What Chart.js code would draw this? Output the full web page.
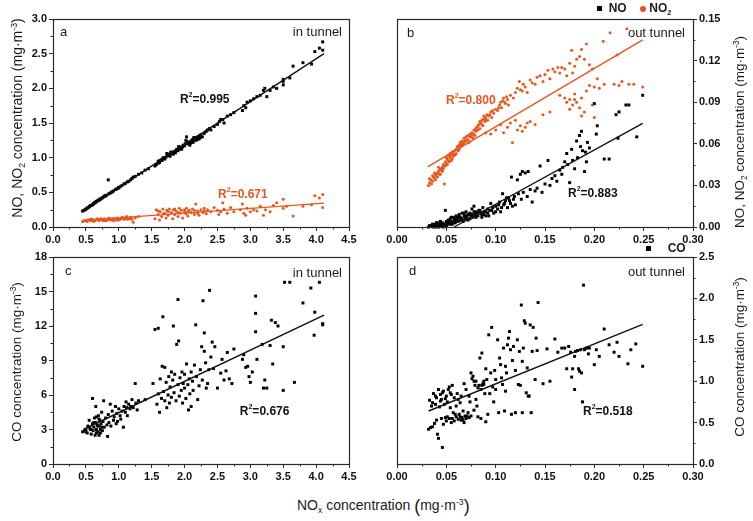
<!DOCTYPE html>
<html><head><meta charset="utf-8">
<script src="https://cdn.jsdelivr.net/npm/chart.js@4.4.1/dist/chart.umd.min.js"></script>
<style>
html,body{margin:0;padding:0;background:#fff;width:753px;height:521px;overflow:hidden;font-family:Arial,"Liberation Sans",Helvetica,sans-serif;}
canvas{position:absolute;}
.t{position:absolute;white-space:nowrap;color:#1a1a1a;line-height:1;}
.rot{transform:translate(-50%,-50%) rotate(-90deg);}
sup{font-size:0.62em;vertical-align:0.6em;line-height:0}
sub{font-size:0.62em;vertical-align:-0.35em;line-height:0}
.sq{display:inline-block;width:5px;height:5px;background:#000;vertical-align:middle;}
.dot{display:inline-block;width:6px;height:6px;border-radius:50%;background:#e9561f;vertical-align:middle;}
</style></head><body>
<canvas id="ca" width="372" height="250" style="left:0;top:0"></canvas>
<canvas id="cb" width="378" height="250" style="left:375px;top:0"></canvas>
<canvas id="cc" width="372" height="250" style="left:0;top:238px"></canvas>
<canvas id="cd" width="378" height="250" style="left:375px;top:238px"></canvas>

<div class="t rot" style="left:17px;top:118px;font-size:14px">NO, NO<sub>2</sub> concentration (mg·m<sup>-3</sup>)</div>
<div class="t rot" style="left:17px;top:362px;font-size:13.5px">CO concentration (mg·m<sup>-3</sup>)</div>
<div class="t rot" style="left:740px;top:132px;font-size:13.5px">NO, NO<sub>2</sub> concentration (mg·m<sup>-3</sup>)</div>
<div class="t rot" style="left:740px;top:357px;font-size:13.5px">CO concentration (mg·m<sup>-3</sup>)</div>
<div class="t" style="left:297px;top:497px;font-size:14px">NO<sub>x</sub> concentration <span style="font-size:18px;vertical-align:-2px">(</span>mg·m<sup>-3</sup><span style="font-size:18px;vertical-align:-2px">)</span></div>
<div class="t" style="left:597px;top:2px;font-size:12px;font-weight:bold"><span class="sq"></span>&nbsp;&nbsp;NO&nbsp;&nbsp;&nbsp;&nbsp;<span class="dot"></span>&nbsp;NO<sub>2</sub></div>
<div class="t" style="left:646px;top:242px;font-size:12px;font-weight:bold"><span class="sq"></span>&nbsp;&nbsp;&nbsp;&nbsp;&nbsp;CO</div>

<script>
// ---------- data ----------
const aNO = [[0.45,0.23],[0.47,0.24],[0.49,0.25],[0.5,0.26],[0.52,0.27],[0.53,0.28],[0.55,0.29],[0.56,0.30],[0.58,0.31],[0.6,0.32],[0.61,0.33],[0.62,0.34],[0.64,0.35],[0.65,0.36],[0.66,0.37],[0.68,0.38],[0.69,0.38],[0.7,0.39],[0.72,0.40],[0.73,0.41],[0.75,0.42],[0.76,0.43],[0.78,0.44],[0.8,0.45],[0.82,0.46],[0.84,0.68],[0.85,0.48],[0.87,0.49],[0.9,0.51],[0.92,0.52],[0.95,0.54],[0.97,0.55],[1.0,0.57],[1.02,0.58],[1.05,0.60],[1.08,0.62],[1.1,0.63],[1.13,0.65],[1.15,0.66],[1.18,0.68],[1.2,0.70],[1.22,0.72],[1.25,0.73],[1.3,0.76],[1.35,0.78],[1.4,0.82],[1.45,0.84],
[1.55,0.88],[1.57,0.90],[1.6,0.92],[1.62,0.93],[1.63,0.96],[1.65,0.97],[1.67,0.99],[1.68,1.0],[1.7,0.98],[1.72,1.01],[1.74,1.03],[1.75,1.04],[1.77,1.05],[1.78,1.02],[1.8,1.06],[1.82,1.08],[1.83,1.05],[1.85,1.09],[1.87,1.10],[1.88,1.12],[1.9,1.1],[1.92,1.13],[1.93,1.15],[1.95,1.12],[1.97,1.16],[1.98,1.18],[2.0,1.17],[2.01,1.20],[2.02,1.25],[2.03,1.30],[2.05,1.2],[2.07,1.22],[2.08,1.18],[2.1,1.24],[2.12,1.26],[2.13,1.22],[2.15,1.27],[2.17,1.25],[2.18,1.29],[2.2,1.30],[2.22,1.27],[2.23,1.32],[2.25,1.33],[2.27,1.30],[2.3,1.35],[2.33,1.38],[2.35,1.40],[2.38,1.42],[2.4,1.40],[2.45,1.45],[2.5,1.48],[2.53,1.52],[2.55,1.55],[2.58,1.55],[2.6,1.50],[2.65,1.60],[2.7,1.62],[2.75,1.65],[2.88,1.68],[2.9,1.75],[2.93,1.72],[2.95,1.80],[3.0,1.82],[3.05,1.85],[3.1,1.88],[3.15,1.90],[3.2,1.97],[3.22,2.0],[3.25,1.88],[3.3,1.97],[3.35,2.02],[3.4,2.0],[3.5,2.05],[3.5,2.10],[3.5,2.13],[3.6,2.15],[3.65,2.32],[3.8,2.37],[3.93,2.35],[3.98,2.53],[4.05,2.58],[4.1,2.55],[4.1,2.67],
[1.6,0.95],[1.66,0.96],[1.73,1.06],[1.79,1.08],[1.86,1.07],[1.91,1.16],[1.96,1.14],[2.04,1.23],[2.09,1.21],[2.14,1.29],[2.19,1.26],[2.24,1.29],[0.57,0.31],[0.63,0.35],[0.71,0.40],[0.79,0.45],[0.89,0.50],[0.99,0.56]];
const aNO2 = [[0.45,0.08],[0.5,0.09],[0.52,0.08],[0.55,0.10],[0.58,0.09],[0.6,0.11],[0.62,0.08],[0.65,0.10],[0.67,0.12],[0.7,0.09],[0.72,0.11],[0.75,0.10],[0.78,0.12],[0.8,0.09],[0.82,0.11],[0.85,0.13],[0.88,0.10],[0.9,0.12],[0.92,0.09],[0.95,0.11],[0.98,0.13],[1.0,0.10],[1.03,0.12],[1.05,0.14],[1.08,0.11],[1.1,0.13],[1.12,0.15],[1.15,0.12],[1.18,0.14],[1.2,0.11],[1.22,0.07],[1.25,0.13],[1.3,0.15],
[0.47,0.09],[0.53,0.10],[0.57,0.11],[0.63,0.09],[0.68,0.11],[0.73,0.12],[0.77,0.09],[0.83,0.10],[0.87,0.11],[0.93,0.12],[0.97,0.10],[1.02,0.11],[1.07,0.13],[1.13,0.11],[1.17,0.12],
[1.55,0.12],[1.57,0.25],[1.6,0.18],[1.62,0.10],[1.63,0.22],[1.65,0.15],[1.67,0.26],[1.7,0.20],[1.72,0.13],[1.73,0.24],[1.75,0.17],[1.77,0.26],[1.8,0.21],[1.82,0.12],[1.83,0.25],[1.85,0.18],[1.87,0.23],[1.9,0.15],[1.92,0.27],[1.93,0.20],[1.95,0.24],[1.97,0.13],[2.0,0.22],[2.02,0.19],[2.03,0.27],[2.05,0.16],[2.07,0.24],[2.1,0.21],[2.12,0.26],[2.15,0.18],[2.17,0.33],[2.2,0.23],[2.22,0.17],[2.25,0.25],[2.28,0.21],[2.3,0.27],[2.33,0.19],[2.35,0.25],[2.4,0.22],[2.45,0.28],[2.5,0.24],[2.52,0.18],[2.55,0.22],[2.58,0.35],[2.6,0.26],[2.65,0.20],[2.7,0.28],[2.75,0.22],[2.85,0.25],[2.88,0.33],[2.9,0.20],[2.93,0.17],[2.95,0.27],[3.0,0.22],[3.05,0.25],[3.1,0.23],[3.15,0.30],[3.2,0.17],[3.23,0.25],[3.3,0.22],[3.35,0.31],[3.4,0.35],[3.5,0.27],[3.5,0.40],[3.55,0.30],[3.65,0.16],[3.8,0.30],[3.93,0.32],[3.98,0.45],[4.05,0.42],[4.1,0.47],[4.1,0.28],
[1.6,0.23],[1.68,0.19],[1.75,0.22],[1.85,0.26],[1.9,0.21],[2.0,0.25],[2.05,0.22],[2.15,0.24],[2.2,0.20],[2.3,0.23]];
const bNO = [[0.032,0.000],[0.035,0.001],[0.037,0.000],[0.038,0.002],[0.04,0.001],[0.041,0.003],[0.042,0.000],[0.043,0.002],[0.044,0.004],[0.045,0.001],[0.046,0.003],[0.047,0.000],[0.048,0.002],[0.049,0.012],[0.05,0.004],[0.051,0.002],[0.052,0.005],[0.053,0.003],[0.054,0.006],[0.055,0.004],[0.056,0.002],[0.057,0.007],[0.058,0.005],[0.059,0.003],[0.06,0.008],[0.061,0.006],[0.062,0.004],[0.063,0.009],[0.064,0.007],[0.065,0.005],[0.066,0.010],[0.067,0.004],[0.068,0.008],[0.069,0.006],[0.07,0.011],[0.071,0.007],[0.072,0.005],[0.073,0.009],[0.074,0.006],[0.075,0.008],[0.076,0.013],[0.077,0.007],[0.078,0.015],[0.079,0.009],[0.08,0.011],[0.082,0.008],[0.083,0.012],[0.085,0.010],[0.086,0.007],[0.087,0.014],[0.088,0.009],[0.09,0.011],[0.092,0.013],[0.093,0.008],[0.095,0.017],[0.096,0.012],[0.098,0.010],[0.1,0.015],[0.102,0.013],[0.104,0.018],[0.105,0.011],[0.107,0.024],[0.108,0.016],[0.11,0.019],[0.112,0.014],[0.113,0.021],[0.115,0.017],[0.116,0.036],[0.118,0.020],[0.12,0.016],[0.122,0.034],[0.123,0.024],[0.125,0.038],[0.126,0.020],[0.127,0.040],[0.128,0.025],[0.13,0.039],[0.132,0.022],[0.133,0.040],[0.135,0.027],[0.137,0.018],[0.14,0.026],[0.142,0.028],[0.145,0.044],[0.147,0.025],[0.15,0.031],[0.153,0.048],[0.155,0.030],[0.157,0.035],[0.16,0.037],[0.162,0.033],[0.165,0.041],[0.167,0.038],[0.168,0.043],[0.17,0.047],[0.172,0.053],[0.173,0.045],[0.175,0.032],[0.177,0.056],[0.178,0.048],[0.18,0.042],[0.182,0.062],[0.183,0.050],[0.185,0.066],[0.186,0.058],[0.187,0.069],[0.188,0.055],[0.19,0.040],[0.191,0.054],[0.192,0.047],[0.193,0.061],[0.195,0.057],[0.2,0.089],[0.203,0.073],[0.202,0.067],[0.21,0.049],[0.215,0.049],[0.222,0.081],[0.225,0.083],[0.224,0.064],[0.232,0.088],[0.235,0.088],[0.243,0.065],[0.249,0.095],
[0.033,0.001],[0.036,0.002],[0.039,0.000],[0.04,0.003],[0.043,0.001],[0.045,0.003],[0.047,0.002],[0.05,0.001],[0.052,0.003],[0.054,0.002],[0.055,0.007],[0.057,0.003],[0.059,0.006],[0.06,0.004],[0.062,0.007],[0.064,0.005],[0.066,0.006],[0.068,0.010],[0.07,0.008],[0.072,0.009],[0.074,0.010],[0.076,0.009],[0.078,0.011],[0.08,0.007],[0.082,0.010],[0.084,0.012],[0.086,0.009],[0.088,0.011],[0.09,0.008],[0.092,0.010],[0.094,0.012],[0.097,0.014],[0.1,0.011],[0.103,0.016],[0.106,0.014],[0.109,0.017],[0.111,0.021],[0.114,0.019],[0.117,0.015],[0.119,0.022]];
const bNO2 = [[0.032,0.030],[0.033,0.032],[0.034,0.034],[0.036,0.033],[0.037,0.036],[0.038,0.035],[0.039,0.038],[0.040,0.037],[0.041,0.039],[0.042,0.040],[0.043,0.038],[0.044,0.042],[0.045,0.041],[0.046,0.043],[0.047,0.045],[0.048,0.031],[0.048,0.044],[0.049,0.047],[0.050,0.046],[0.051,0.049],[0.052,0.048],[0.053,0.051],[0.054,0.050],[0.055,0.052],[0.056,0.049],[0.057,0.053],[0.058,0.055],[0.059,0.052],[0.060,0.056],[0.061,0.058],[0.062,0.055],[0.063,0.059],[0.064,0.061],[0.065,0.058],[0.066,0.062],[0.067,0.060],[0.068,0.064],[0.069,0.062],[0.070,0.065],[0.071,0.063],[0.072,0.066],[0.073,0.061],[0.074,0.067],[0.075,0.065],[0.076,0.068],[0.077,0.064],[0.078,0.070],[0.079,0.066],[0.080,0.069],[0.081,0.072],[0.082,0.070],[0.083,0.074],[0.084,0.071],[0.085,0.075],[0.086,0.077],[0.087,0.073],[0.088,0.078],[0.089,0.076],[0.090,0.079],[0.091,0.081],[0.092,0.077],[0.093,0.080],[0.095,0.083],[0.096,0.079],[0.098,0.082],[0.100,0.085],[0.102,0.084],[0.104,0.088],[0.106,0.086],[0.107,0.091],[0.108,0.093],[0.110,0.089],[0.112,0.092],[0.113,0.088],
[0.033,0.035],[0.035,0.031],[0.036,0.037],[0.038,0.039],[0.039,0.034],[0.041,0.036],[0.042,0.043],[0.043,0.041],[0.044,0.038],[0.046,0.040],[0.047,0.042],[0.049,0.044],[0.050,0.050],[0.051,0.045],[0.052,0.052],[0.053,0.047],[0.054,0.053],[0.055,0.048],[0.056,0.054],[0.057,0.051],[0.058,0.052],[0.060,0.053],[0.062,0.058],[0.063,0.056],[0.065,0.060],[0.066,0.059],[0.068,0.061],[0.070,0.062],[0.072,0.063],[0.074,0.065],[0.076,0.066],[0.078,0.067],[0.080,0.071],[0.082,0.073],[0.084,0.076],[0.086,0.074],[0.088,0.080],[0.090,0.077],[0.094,0.081],[0.097,0.084],[0.103,0.086],[0.105,0.090],[0.109,0.090],[0.111,0.094],
[0.115,0.095],[0.118,0.093],[0.12,0.097],[0.122,0.100],[0.124,0.105],[0.125,0.099],[0.127,0.098],[0.128,0.103],[0.13,0.101],[0.132,0.097],[0.135,0.106],[0.137,0.104],[0.14,0.103],[0.142,0.108],[0.145,0.109],[0.148,0.105],[0.15,0.110],[0.153,0.113],[0.155,0.107],[0.158,0.114],[0.16,0.112],[0.163,0.115],[0.165,0.111],[0.167,0.115],[0.17,0.114],[0.172,0.109],[0.175,0.118],[0.177,0.1275],[0.178,0.111],[0.18,0.116],[0.182,0.121],[0.185,0.123],[0.187,0.128],[0.19,0.121],[0.192,0.132],[0.195,0.117],[0.198,0.114],[0.203,0.107],[0.209,0.134],[0.216,0.140],[0.223,0.124],[0.233,0.143],
[0.09,0.068],[0.095,0.067],[0.10,0.070],[0.105,0.074],[0.108,0.068],[0.112,0.072],[0.115,0.075],[0.117,0.061],[0.12,0.077],[0.122,0.070],[0.125,0.073],[0.127,0.069],[0.13,0.072],[0.132,0.075],[0.135,0.076],[0.14,0.074],[0.148,0.081],[0.155,0.083],[0.165,0.095],[0.17,0.093],[0.172,0.090],[0.175,0.092],[0.178,0.088],[0.18,0.096],[0.182,0.090],[0.185,0.086],[0.187,0.093],[0.19,0.083],[0.192,0.098],[0.195,0.102],[0.198,0.088],[0.2,0.079],[0.205,0.100],[0.22,0.103],[0.225,0.102],[0.228,0.105],[0.235,0.103],[0.24,0.103],[0.249,0.101],[0.187,0.080],[0.18,0.092],[0.175,0.085],[0.2,0.101],[0.21,0.103]];
const cCO = [[0.45,2.8],[0.48,2.9],[0.5,3.0],[0.52,2.7],[0.53,3.3],[0.55,3.8],[0.56,3.1],[0.58,2.6],[0.6,3.5],[0.6,5.7],[0.61,2.9],[0.62,3.2],[0.63,4.0],[0.64,2.5],[0.65,3.6],[0.65,5.0],[0.66,3.0],[0.67,3.4],[0.68,2.8],[0.69,4.2],[0.7,3.3],[0.7,2.5],[0.71,3.8],[0.72,3.0],[0.73,3.5],[0.74,4.5],[0.75,2.9],[0.76,3.7],[0.77,5.5],[0.78,3.2],[0.8,4.0],[0.82,3.4],[0.83,2.4],[0.84,4.3],[0.85,3.6],[0.87,5.2],[0.88,3.3],[0.9,4.6],[0.92,3.8],[0.93,4.1],[0.95,5.0],[0.96,3.5],[0.97,4.4],[0.98,3.7],[1.0,4.8],[1.02,4.2],[1.03,3.9],[1.05,4.6],[1.07,3.2],[1.08,5.0],[1.1,4.5],[1.11,5.4],[1.12,4.9],[1.13,4.2],[1.15,5.2],[1.17,4.8],[1.18,5.0],[1.2,5.6],[1.22,4.9],[1.25,7.0],[1.26,5.3],[1.28,4.7],[1.3,5.5],[1.4,5.6],
[0.62,3.6],[0.66,2.7],[0.68,3.3],[0.7,3.9],[0.72,2.7],[0.74,3.2],[0.66,4.1],[0.57,3.0],[0.5,2.8],
[1.52,7.0],[1.55,11.7],[1.58,5.2],[1.6,11.8],[1.6,6.1],[1.62,4.5],[1.63,7.4],[1.65,5.7],[1.66,8.5],[1.67,12.8],[1.68,6.3],[1.7,8.4],[1.7,5.5],[1.72,7.1],[1.73,4.9],[1.75,6.0],[1.76,7.6],[1.77,5.3],[1.78,6.7],[1.8,8.0],[1.8,5.8],[1.82,7.3],[1.83,12.0],[1.84,6.2],[1.85,7.8],[1.87,5.5],[1.88,10.4],[1.9,6.9],[1.9,14.3],[1.91,10.7],[1.92,5.9],[1.93,7.5],[1.95,6.4],[1.96,8.0],[1.97,5.3],[1.98,7.0],[2.0,6.6],[2.0,7.8],[2.02,5.7],[2.03,8.7],[2.05,6.9],[2.06,4.7],[2.07,7.4],[2.08,6.1],[2.1,8.0],[2.1,5.0],[2.12,7.2],[2.13,6.4],[2.15,8.6],[2.17,12.1],[2.18,7.6],[2.2,5.6],[2.22,6.8],[2.24,8.2],[2.26,10.2],[2.27,7.3],[2.28,14.2],[2.3,9.8],[2.3,11.4],[2.32,8.8],[2.33,6.6],[2.35,7.0],[2.37,8.2],[2.38,15.1],[2.4,9.3],[2.42,10.6],[2.44,8.3],[2.46,10.2],
[2.5,6.6],[2.55,7.9],[2.57,9.1],[2.6,7.3],[2.63,8.1],[2.65,9.7],[2.68,7.4],[2.72,7.0],[2.75,10.0],[2.88,9.1],[2.9,9.5],[2.93,8.4],[2.96,8.5],[2.98,7.6],[3.0,7.1],[3.03,8.0],[3.08,14.6],[3.08,13.1],[3.08,11.5],[3.1,9.1],[3.18,10.4],[3.2,6.6],[3.22,7.3],[3.25,6.6],[3.3,10.3],[3.32,12.5],[3.34,8.7],[3.38,12.3],[3.42,12.0],[3.5,6.4],[3.5,10.2],[3.52,15.8],[3.6,15.8],[3.67,7.1],[3.8,14.0],[3.92,15.3],[3.97,11.2],[3.98,13.2],[4.05,15.8],[4.1,12.2],[4.1,12.1]];
const dCO = [[0.032,0.42],[0.033,0.77],[0.034,0.44],[0.035,0.70],[0.036,0.45],[0.037,0.85],[0.038,0.49],[0.039,0.72],[0.04,0.53],[0.04,0.80],[0.041,0.36],[0.042,0.31],[0.042,0.90],[0.043,0.69],[0.044,0.84],[0.045,0.55],[0.045,0.78],[0.046,0.20],[0.047,0.48],[0.047,0.88],[0.048,0.72],[0.049,0.56],[0.05,0.82],[0.05,0.52],[0.051,0.75],[0.052,0.90],[0.053,0.55],[0.053,0.93],[0.054,0.68],[0.055,0.50],[0.055,0.84],[0.056,0.95],[0.057,0.62],[0.058,0.52],[0.058,0.80],[0.06,0.57],[0.06,0.70],[0.061,0.85],[0.062,0.54],[0.063,0.60],[0.064,0.74],[0.065,0.53],[0.065,0.82],[0.066,0.56],[0.067,0.64],[0.068,0.50],[0.068,0.97],[0.069,0.58],[0.07,0.90],[0.07,0.55],[0.072,0.62],[0.073,0.56],[0.074,0.75],[0.075,0.58],[0.075,1.10],[0.076,1.03],[0.077,1.06],[0.078,0.65],[0.079,0.95],[0.08,0.78],[0.08,1.00],[0.081,0.70],[0.082,0.57],[0.083,0.95],[0.084,1.28],[0.085,0.90],[0.085,0.55],[0.086,1.34],[0.087,0.97],[0.088,0.96],[0.089,0.85],[0.09,1.15],[0.09,0.51],[0.091,1.02],[0.092,0.60],[0.093,1.56],[0.094,0.85],[0.095,1.10],[0.096,1.65],[0.097,0.93],[0.098,0.75],[0.099,1.13],[0.1,0.90],[0.1,1.02],[0.102,1.50],[0.103,0.62],[0.104,1.28],[0.105,1.20],[0.106,1.04],[0.107,0.96],[0.108,1.40],[0.109,0.64],[0.11,1.18],[0.11,0.88],[0.111,1.10],[0.112,1.44],[0.113,1.52],[0.114,1.60],[0.115,1.38],[0.116,0.60],[0.117,1.25],[0.118,1.42],[0.12,1.13],[0.12,0.62],[0.122,1.50],[0.123,0.96],[0.124,1.36],[0.125,0.95],[0.126,1.92],[0.127,1.24],[0.127,0.62],[0.128,1.40],[0.129,1.73],[0.13,1.70],[0.131,0.86],[0.132,1.16],[0.133,0.82],[0.134,0.82],[0.135,1.68],[0.136,0.62],[0.137,1.36],[0.138,1.65],[0.14,1.02],[0.141,1.52],[0.142,1.37],[0.143,1.95],[0.148,0.97],[0.152,1.39],[0.155,1.00],[0.16,1.51],[0.163,1.35],[0.167,1.40],[0.17,1.40],[0.172,1.15],[0.174,1.42],[0.176,1.35],[0.177,1.05],[0.178,1.15],[0.18,1.30],[0.181,1.36],[0.183,1.37],[0.184,1.15],[0.185,1.12],[0.186,1.38],[0.187,1.10],[0.188,0.75],[0.189,2.16],[0.19,1.38],[0.192,1.40],[0.194,1.33],[0.195,1.40],[0.2,1.20],[0.202,1.38],[0.205,1.30],[0.21,1.63],[0.215,1.44],[0.22,1.35],[0.223,1.47],[0.225,1.30],[0.234,1.21],[0.237,1.38],[0.242,1.45],[0.249,1.18],[0.18,0.90],
[0.036,0.74],[0.039,0.82],[0.044,0.76],[0.046,0.86],[0.049,0.79],[0.051,0.57],[0.054,0.86],[0.056,0.55],[0.059,0.60],[0.062,0.78],[0.064,0.57],[0.067,0.53],[0.071,0.58],[0.073,0.82],[0.078,1.00],[0.082,0.92],[0.086,0.95],[0.088,1.00]];

// fitted lines (end points)
const aNOfit  = [[0.46,0.235],[4.12,2.50]];
const aNO2fit = [[0.46,0.095],[4.12,0.345]];
const bNOfit  = [[0.058,0.0],[0.249,0.0748]];
const bNO2fit = [[0.031,0.0433],[0.249,0.135]];
const cCOfit  = [[0.46,3.0],[4.12,12.95]];
const dCOfit  = [[0.032,0.64],[0.249,1.687]];

// axis ranges / tick steps: [min, max, minor step, major step]
const xInRange = [0, 4.5, 0.25, 0.5];
const xOutRange = [0, 0.30, 0.025, 0.05];
const yARange = [0, 3.0, 0.25, 0.5];
const yBRange = [0, 0.15, 0.015, 0.03];
const yCRange = [0, 18, 1.5, 3];
const yDRange = [0, 2.5, 0.25, 0.5];

const R2 = {a1:'0.995', a2:'0.671', b1:'0.800', b2:'0.883', c:'0.676', d:'0.518'};

// ---------- drawing ----------
const FONT = 'Arial, "Liberation Sans", Helvetica, sans-serif';
const ORANGE = '#e9561f';
const AXC = '#2a2a2a';
Chart.defaults.font.family = FONT;
Chart.defaults.color = '#111';

const pts = arr => arr.map(p => ({x:p[0], y:p[1]}));
const isMajor = (v, m) => Math.abs(v/m - Math.round(v/m)) < 1e-6;

function drawRich(ctx, parts, x, y, size, color){
  ctx.fillStyle = color; ctx.textBaseline = 'middle'; ctx.textAlign = 'left';
  let cx = x;
  parts.forEach(p => {
    if (p.sup){ ctx.font = 'bold ' + Math.round(size*0.6) + 'px ' + FONT; ctx.fillText(p.t, cx, y - size*0.38); }
    else { ctx.font = 'bold ' + size + 'px ' + FONT; ctx.fillText(p.t, cx, y); }
    cx += ctx.measureText(p.t).width;
  });
}

const decorPlugin = {
  id: 'decor',
  afterDraw(chart, args, opts){
    const ctx = chart.ctx, ca = chart.chartArea;
    ctx.save();
    ctx.strokeStyle = AXC; ctx.lineWidth = 1;
    ['x','y'].forEach(id => {
      const s = chart.scales[id], m = opts.major[id];
      s.ticks.forEach(t => {
        if (isMajor(t.value, m)) return;
        const p = Math.round(s.getPixelForValue(t.value)) + 0.5;
        ctx.beginPath();
        if (id === 'x'){ ctx.moveTo(p, ca.bottom); ctx.lineTo(p, ca.bottom + 2.5); }
        else if (s.position === 'left'){ ctx.moveTo(ca.left, p); ctx.lineTo(ca.left - 2.5, p); }
        else { ctx.moveTo(ca.right, p); ctx.lineTo(ca.right + 2.5, p); }
        ctx.stroke();
      });
    });
    ctx.strokeStyle = AXC; ctx.lineWidth = 1.2;
    ctx.strokeRect(Math.round(ca.left)+0.5, Math.round(ca.top)+0.5, Math.round(ca.width), Math.round(ca.height));
    (opts.texts || []).forEach(it => {
      ctx.fillStyle = '#1a1a1a'; ctx.font = '13px ' + FONT; ctx.textBaseline = 'middle';
      if (it.right){ ctx.textAlign = 'right'; ctx.fillText(it.t, ca.right - it.dx, ca.top + it.dy); }
      else { ctx.textAlign = 'left'; ctx.fillText(it.t, ca.left + it.dx, ca.top + it.dy); }
    });
    (opts.r2 || []).forEach(it => {
      const x = chart.scales.x.getPixelForValue(it.at[0]);
      const y = chart.scales.y.getPixelForValue(it.at[1]);
      drawRich(ctx, [{t:'R'},{t:'2',sup:true},{t:'='+it.v}], x, y, 12, it.color);
    });
    ctx.restore();
  }
};

function scaleOpts(range, pos, fit, dec){
  return {
    type:'linear', position:pos, min:range[0], max:range[1],
    afterFit: s => { if (pos==='bottom') s.height = fit; else s.width = fit; },
    grid:{ display:true, drawOnChartArea:false, drawTicks:true, tickLength:4,
      tickColor: c => (c.tick && isMajor(c.tick.value, range[3])) ? AXC : 'rgba(0,0,0,0)', tickWidth:1 },
    border:{ display:false },
    ticks:{ stepSize:range[2], autoSkip:false, maxRotation:0, padding:2, color:'#111',
      font:{ size:11, weight:'bold', family:FONT },
      callback: v => isMajor(v, range[3]) ? Number(v).toFixed(dec) : '' }
  };
}

function makeChart(id, sets, xr, yr, xdec, ydec, ypos, pad, yw, xh, texts, r2){
  const datasets = [];
  sets.lines.forEach(l => datasets.push({ type:'line', data:pts(l.d), borderColor:l.c, borderWidth:1.4, pointRadius:0, showLine:true, fill:false, clip:false }));
  sets.scatter.forEach(s => datasets.push({ type:'scatter', data:pts(s.d), backgroundColor:s.c, borderWidth:0,
      pointStyle:s.style, pointRadius:s.r, pointHoverRadius:s.r, clip:false }));
  new Chart(document.getElementById(id), {
    type:'scatter',
    data:{ datasets },
    options:{
      responsive:false, animation:false, devicePixelRatio:1,
      layout:{ padding:pad },
      plugins:{ legend:{display:false}, tooltip:{enabled:false},
        decor:{ major:{x:xr[3], y:yr[3]}, texts, r2 } },
      scales:{ x:scaleOpts(xr,'bottom',xh,xdec), y:scaleOpts(yr,ypos,yw,ydec) }
    },
    plugins:[decorPlugin]
  });
}

makeChart('ca', { lines:[{d:aNOfit,c:'#111'},{d:aNO2fit,c:ORANGE}],
  scatter:[{d:aNO,c:'#000',style:'rect',r:2.1},{d:aNO2,c:ORANGE,style:'circle',r:1.5}] },
  xInRange, yARange, 1, 1, 'left', {left:0, top:19, right:23, bottom:0}, 53, 23,
  [{t:'a',dx:7,dy:13},{t:'in tunnel',dx:7,dy:13,right:true}],
  [{at:[1.93,1.83],v:R2.a1,color:'#111'},{at:[2.51,0.46],v:R2.a2,color:ORANGE}]);

makeChart('cb', { lines:[{d:bNOfit,c:'#111'},{d:bNO2fit,c:ORANGE}],
  scatter:[{d:bNO,c:'#000',style:'rect',r:2.1},{d:bNO2,c:ORANGE,style:'circle',r:1.5}] },
  xOutRange, yBRange, 2, 2, 'right', {left:22, top:19, right:0, bottom:0}, 60, 23,
  [{t:'b',dx:10,dy:14},{t:'out tunnel',dx:8,dy:14,right:true}],
  [{at:[0.0497,0.0909],v:R2.b1,color:ORANGE},{at:[0.1733,0.0238],v:R2.b2,color:'#111'}]);

makeChart('cc', { lines:[{d:cCOfit,c:'#111'}],
  scatter:[{d:cCO,c:'#000',style:'rect',r:2.1}] },
  xInRange, yCRange, 1, 0, 'left', {left:0, top:19, right:23, bottom:0}, 53, 24,
  [{t:'c',dx:12,dy:14},{t:'in tunnel',dx:7,dy:16,right:true}],
  [{at:[2.84,4.52],v:R2.c,color:'#111'}]);

makeChart('cd', { lines:[{d:dCOfit,c:'#111'}],
  scatter:[{d:dCO,c:'#000',style:'rect',r:2.1}] },
  xOutRange, yDRange, 2, 1, 'right', {left:22, top:19, right:0, bottom:0}, 60, 24,
  [{t:'d',dx:12,dy:14},{t:'out tunnel',dx:8,dy:15,right:true}],
  [{at:[0.1885,0.628],v:R2.d,color:'#111'}]);
</script>
</body></html>
